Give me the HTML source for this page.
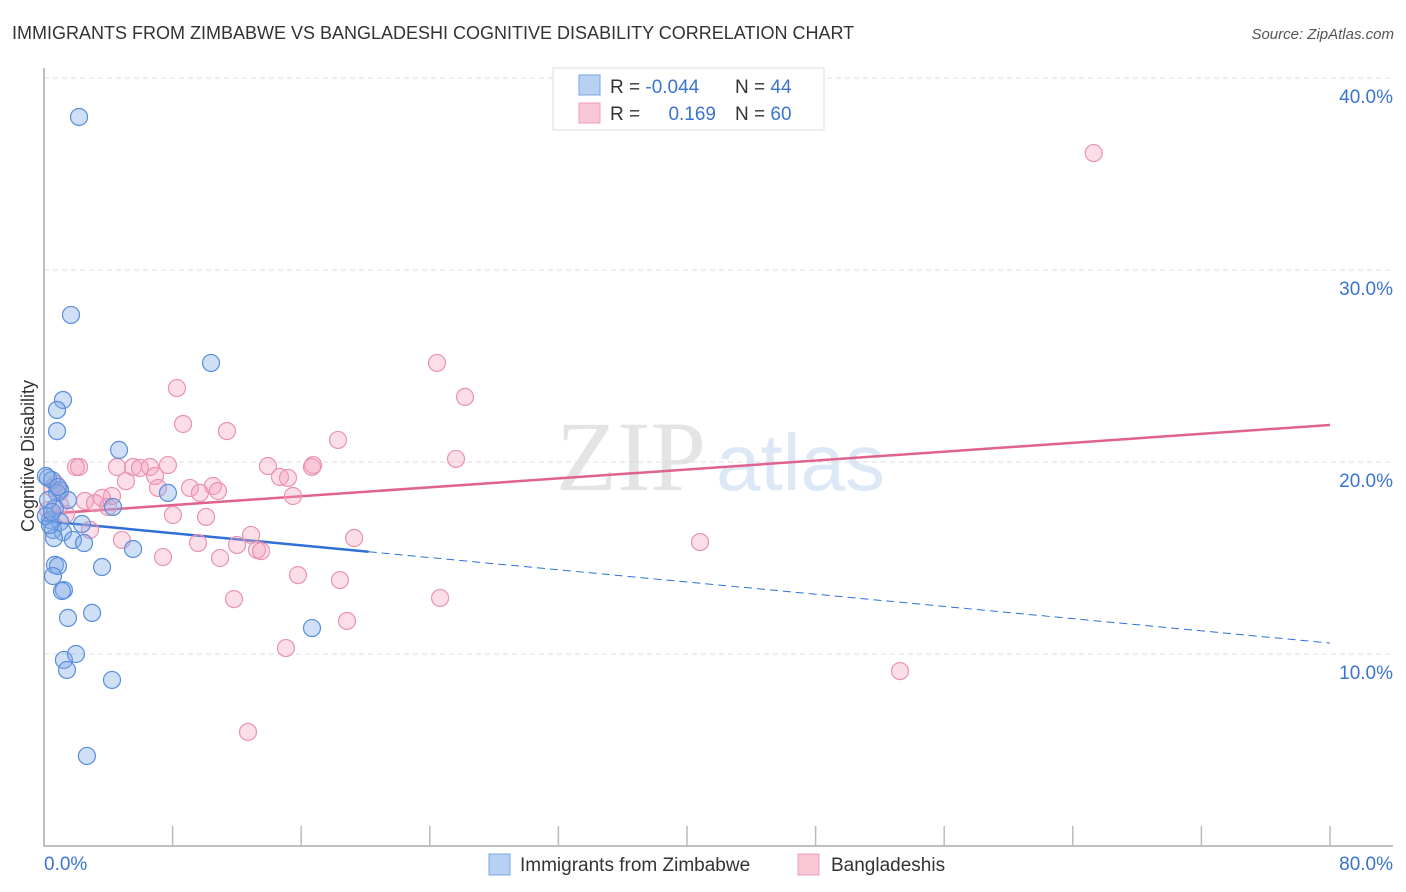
<!DOCTYPE html>
<html><head><meta charset="utf-8">
<style>
body{margin:0;background:#fff;font-family:"Liberation Sans",sans-serif;}
svg{display:block}
</style></head>
<body>
<svg id="chart" width="1406" height="892" viewBox="0 0 1406 892">
<text x="12" y="39" font-size="18" fill="#333">IMMIGRANTS FROM ZIMBABWE VS BANGLADESHI COGNITIVE DISABILITY CORRELATION CHART</text>
<text x="1394" y="39" font-size="15" fill="#555" font-style="italic" text-anchor="end">Source: ZipAtlas.com</text>
<g>
<text x="556" y="490" font-family="Liberation Serif,serif" font-size="100" fill="#e4e4e4">ZIP</text>
<text x="716" y="490" font-size="80" fill="#dde8f6">atlas</text>
</g>
<g id="grid"></g>
<g id="axes"></g>
<g id="trend"></g>
<g id="pts"></g>
<g>
<rect x="553" y="68" width="271" height="62" fill="#fff" stroke="#ddd"/>
<rect x="579" y="75" width="21" height="20" fill="#b8d1f3" stroke="#7aa6e3"/>
<rect x="579" y="103" width="21" height="20" fill="#f9c6d5" stroke="#ee9fb8"/>
<text x="610" y="93" font-size="19" fill="#333">R = <tspan fill="#3b73d1">-0.044</tspan></text>
<text x="735" y="93" font-size="19" fill="#333">N = <tspan fill="#3b73d1">44</tspan></text>
<text x="610" y="120" font-size="19" fill="#333">R = </text>
<text x="716" y="120" font-size="19" fill="#3b73d1" text-anchor="end">0.169</text>
<text x="735" y="120" font-size="19" fill="#333">N = <tspan fill="#3b73d1">60</tspan></text>
</g>
<g>
<rect x="489" y="854" width="21" height="21" fill="#b8d1f3" stroke="#7aa6e3"/>
<text x="520" y="871" font-size="19" fill="#333">Immigrants from Zimbabwe</text>
<rect x="798" y="854" width="21" height="21" fill="#f9c6d5" stroke="#ee9fb8"/>
<text x="831" y="871" font-size="19" fill="#333">Bangladeshis</text>
</g>
<text transform="translate(34,456) rotate(-90)" font-size="18" fill="#333" text-anchor="middle">Cognitive Disability</text>
</svg>
<script>
const blueX=[2.18,1.68,10.39,1.18,0.81,0.81,4.67,0.25,0.50,1.00,0.81,1.49,4.29,7.71,0.68,0.37,1.00,2.36,0.56,1.18,1.80,2.49,5.54,0.62,0.68,0.87,3.61,0.56,1.24,1.12,2.99,1.49,16.67,1.24,1.99,1.43,4.23,2.67,0.25,0.12,0.37,0.12,0.87,0.50];
const blueY=[37.97,27.66,25.16,23.23,22.71,21.61,20.63,19.17,19.06,18.54,18.39,18.02,17.66,18.39,17.60,16.98,16.88,16.77,16.46,16.35,15.94,15.78,15.47,16.04,14.64,14.58,14.53,14.06,13.33,13.28,12.14,11.88,11.35,9.69,10.00,9.17,8.65,4.69,18.02,17.19,16.72,19.27,18.70,17.40];
const pinkX=[65.3,24.45,26.19,8.27,8.65,11.38,18.29,25.63,1.99,2.18,4.54,5.54,5.97,6.59,7.71,13.93,16.67,14.68,15.18,6.91,5.10,10.51,9.08,10.82,7.09,9.70,4.23,15.49,2.55,3.61,3.17,3.98,0.75,1.0,1.37,8.02,10.08,2.86,12.88,4.85,9.58,12.01,19.29,40.81,13.25,13.50,7.40,10.95,15.80,18.41,11.82,24.64,18.85,15.05,53.25,12.69,0.50,0.25,16.74,1.0];
const pinkY=[36.09,25.16,23.39,23.85,21.98,21.61,21.15,20.16,19.74,19.74,19.74,19.74,19.69,19.74,19.84,19.79,19.74,19.22,19.17,19.27,19.0,18.75,18.65,18.49,18.65,18.39,18.23,18.23,17.97,18.13,17.86,17.66,18.85,17.76,17.29,17.24,17.14,16.46,16.20,15.94,15.78,15.68,16.04,15.83,15.42,15.36,15.05,15.0,14.11,13.85,12.86,12.92,11.72,10.31,9.11,5.94,18.65,17.50,19.84,18.44];
const blueTrend=[16.93,10.57]; // value at x=0 and x=80
const blueSolidEnd=20.2;
const pinkTrend=[17.29,21.93];
const yTicks=[10,20,30,40];
const yTickLabels=["10.0%","20.0%","30.0%","40.0%"];
const xTicks=[0,8,16,24,32,40,48,56,64,72,80];
const xEndLabels=["0.0%","80.0%"];

const NS="http://www.w3.org/2000/svg";
const X=v=>44+v/80*1286;
const Y=v=>846-v*19.2;
function mk(tag,attrs,parent){const e=document.createElementNS(NS,tag);for(const k in attrs)e.setAttribute(k,attrs[k]);parent.appendChild(e);return e;}
const grid=document.getElementById('grid'),axes=document.getElementById('axes'),trend=document.getElementById('trend'),pts=document.getElementById('pts');
yTicks.forEach((t,i)=>{
  const l=mk('line',{x1:44,x2:1393,y1:Y(t),y2:Y(t),stroke:'#ddd','stroke-dasharray':'5,4'},grid);
  
  
  const tx=mk('text',{x:1393,y:Y(t)+25,'font-size':19,fill:'#3b73d1','text-anchor':'end'},axes);
  tx.textContent=yTickLabels[i];
  
  
});
const ax=mk('path',{d:'M44,68 V846 H1393',fill:'none',stroke:'#aaa','stroke-width':1.5},axes);


xTicks.forEach(t=>{
  if(t===0)return;
  const l=mk('line',{x1:X(t),x2:X(t),y1:826,y2:846,stroke:'#bbb','stroke-width':1.5},axes);
  
  
});
const xl0=mk('text',{x:44,y:870,'font-size':19,fill:'#3b73d1'},axes);xl0.textContent=xEndLabels[0];


const xl1=mk('text',{x:1393,y:870,'font-size':19,fill:'#3b73d1','text-anchor':'end'},axes);xl1.textContent=xEndLabels[1];


function drawPts(xs,ys,fill,stroke,name){
  xs.forEach((x,i)=>{
    const c=mk('circle',{cx:X(x),cy:Y(ys[i]),r:8.5,fill:fill,stroke:stroke,'stroke-width':1.2},pts);
    
    
  });
}
drawPts(pinkX,pinkY,'rgba(244,160,188,0.35)','#ea93b0','bangladeshi-point');
drawPts(blueX,blueY,'rgba(130,170,232,0.38)','#5a8edb','zimbabwe-point');
const bAt=x=>blueTrend[0]+(blueTrend[1]-blueTrend[0])*x/80;
const pAt=x=>pinkTrend[0]+(pinkTrend[1]-pinkTrend[0])*x/80;
const bs=mk('line',{x1:X(0),y1:Y(bAt(0)),x2:X(blueSolidEnd),y2:Y(bAt(blueSolidEnd)),stroke:'#2f6fd6','stroke-width':2.5},trend);


const bd=mk('line',{x1:X(blueSolidEnd),y1:Y(bAt(blueSolidEnd)),x2:X(80),y2:Y(bAt(80)),stroke:'#2f6fd6','stroke-width':1,'stroke-dasharray':'8,5'},trend);


const pl=mk('line',{x1:X(0),y1:Y(pAt(0)),x2:X(80),y2:Y(pAt(80)),stroke:'#e0628e','stroke-width':2.5},trend);


</script>
</body></html>
